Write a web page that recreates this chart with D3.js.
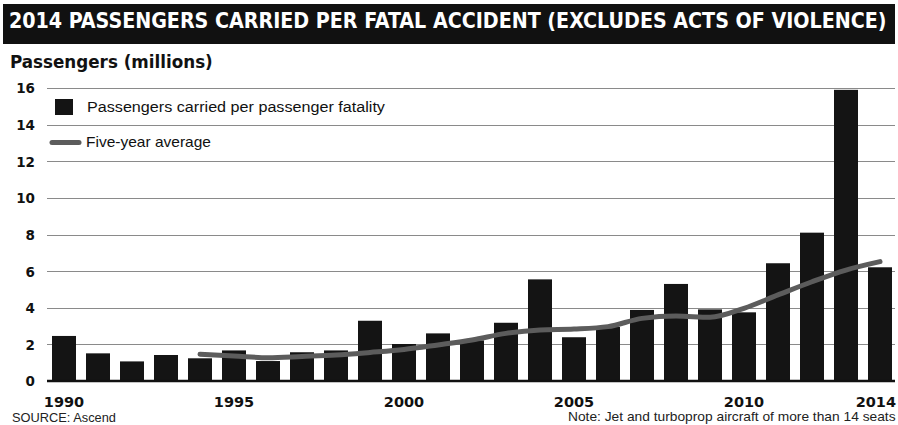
<!DOCTYPE html>
<html>
<head>
<meta charset="utf-8">
<script src="https://cdn.jsdelivr.net/npm/d3@7"></script>
<style>
  html, body { margin: 0; padding: 0; background: #ffffff; }
  svg { display: block; }
  .cond { font-family: "Liberation Sans Narrow", "DejaVu Sans Condensed", "Arial Narrow", sans-serif; font-stretch: condensed; font-weight: bold; }
  .wide { font-family: "DejaVu Sans", Verdana, sans-serif; font-weight: bold; }
  .plain { font-family: "Liberation Sans", Arial, sans-serif; }
</style>
</head>
<body>
<svg id="chart" width="898" height="425"></svg>
<script>
// Passengers carried per passenger fatality, millions
const years = d3.range(1990, 2015);
const perFatality = [2.46, 1.51, 1.07, 1.42, 1.24, 1.67, 1.09, 1.57, 1.67, 3.29,
                     2.02, 2.6, 2.22, 3.18, 5.55, 2.39, 2.95, 3.88, 5.3, 3.91,
                     3.75, 6.43, 8.1, 15.9, 6.21];
// Five-year moving average (starts in 1994)
const avgYears = d3.range(1994, 2015);
const fiveYearAvg = [1.46, 1.37, 1.27, 1.34, 1.42, 1.56, 1.72, 1.97, 2.24, 2.6,
                     2.79, 2.84, 2.97, 3.42, 3.55, 3.48, 3.97, 4.7, 5.42, 6.06, 6.52];
const yTicks = [0, 2, 4, 6, 8, 10, 12, 14, 16];
const xLabelYears = [1990, 1995, 2000, 2005, 2010, 2014];

const titleText = "2014 PASSENGERS CARRIED PER FATAL ACCIDENT (EXCLUDES ACTS OF VIOLENCE)";
const yTitle = "Passengers (millions)";
const legendBars = "Passengers carried per passenger fatality";
const legendLine = "Five-year average";
const sourceText = "SOURCE: Ascend";
const noteText = "Note: Jet and turboprop aircraft of more than 14 seats";

const svg = d3.select("#chart");
const plot = { left: 47, right: 897, top: 88, bottom: 381 };

// Places a text at (px, py) and stretches it horizontally to a given width
function fitText(sel, px, py, width) {
  const w = sel.node().getComputedTextLength();
  sel.attr("transform", `translate(${px},${py}) scale(${width / w},1)`);
  return sel;
}

const x = d3.scaleBand()
  .domain(years)
  .range([plot.left, plot.right])
  .paddingInner(10 / 34)
  .paddingOuter(5 / 34);

const y = d3.scaleLinear().domain([0, 16]).range([plot.bottom, plot.top]);

// Header band
svg.append("rect").attr("x", 3).attr("y", 4).attr("width", 892).attr("height", 40).attr("fill", "#111");
fitText(svg.append("text").attr("class", "cond")
  .attr("font-size", 22)
  .attr("fill", "#fff")
  .text(titleText), 9, 28, 878);

// Axis title
fitText(svg.append("text").attr("class", "cond")
  .attr("font-size", 18).attr("fill", "#111")
  .text(yTitle), 10, 68, 203);

// Gridlines and y labels
const yAxis = d3.axisLeft(y).tickValues(yTicks).tickSize(0).tickPadding(12);
const gy = svg.append("g").attr("transform", `translate(${plot.left},0)`).call(yAxis);
gy.select(".domain").remove();
gy.selectAll("text").attr("class", "wide").attr("font-size", 13.5).attr("fill", "#111").attr("dy", "0.36em");

svg.append("g").selectAll("line")
  .data(yTicks.filter(d => d > 0))
  .join("line")
  .attr("x1", plot.left).attr("x2", 895)
  .attr("y1", d => Math.round(y(d)) + 0.5).attr("y2", d => Math.round(y(d)) + 0.5)
  .attr("stroke", "#8a8a8a").attr("stroke-width", 1);

// Bars
svg.append("g").selectAll("rect")
  .data(years.map((yr, i) => ({ yr, v: perFatality[i] })))
  .join("rect")
  .attr("x", d => x(d.yr))
  .attr("width", x.bandwidth())
  .attr("y", d => y(d.v))
  .attr("height", d => y(0) - y(d.v))
  .attr("fill", "#141414");

// Baseline
svg.append("line")
  .attr("x1", plot.left).attr("x2", 895)
  .attr("y1", y(0)).attr("y2", y(0))
  .attr("stroke", "#111").attr("stroke-width", 2.5);

// Five-year average line
const line = d3.line()
  .x(d => x(d.yr) + x.bandwidth() / 2)
  .y(d => y(d.v))
  .curve(d3.curveMonotoneX);
svg.append("path")
  .datum(avgYears.map((yr, i) => ({ yr, v: fiveYearAvg[i] })))
  .attr("d", line)
  .attr("fill", "none")
  .attr("stroke", "#5c5c5c")
  .attr("stroke-width", 5)
  .attr("stroke-linecap", "round")
  .attr("stroke-linejoin", "round");

// X labels (last one kept inside the right edge)
const xAxis = d3.axisBottom(x).tickValues(xLabelYears).tickSize(0).tickPadding(16);
const gx = svg.append("g").attr("transform", `translate(0,${plot.bottom})`).call(xAxis);
gx.select(".domain").remove();
gx.selectAll("text").attr("class", "wide").attr("font-size", 14.5).attr("fill", "#111");
gx.selectAll(".tick").filter(d => d === 2014).select("text")
  .attr("text-anchor", "end")
  .attr("x", function () {
    const cx = x(2014) + x.bandwidth() / 2;
    return 896 - cx;
  });

// Legend
svg.append("rect").attr("x", 55).attr("y", 99).attr("width", 18).attr("height", 16).attr("fill", "#141414");
fitText(svg.append("text").attr("class", "plain")
  .attr("font-size", 14).attr("fill", "#111")
  .text(legendBars), 87, 112, 298);
svg.append("line").attr("x1", 52).attr("x2", 79).attr("y1", 142.5).attr("y2", 142.5)
  .attr("stroke", "#5c5c5c").attr("stroke-width", 5).attr("stroke-linecap", "round");
fitText(svg.append("text").attr("class", "plain")
  .attr("font-size", 14).attr("fill", "#111")
  .text(legendLine), 86, 146.5, 125);

// Footer
fitText(svg.append("text").attr("class", "plain")
  .attr("font-size", 12).attr("fill", "#222")
  .text(sourceText), 12, 422, 104);
fitText(svg.append("text").attr("class", "plain")
  .attr("font-size", 12).attr("fill", "#222")
  .text(noteText), 568, 421, 328);
</script>
</body>
</html>
